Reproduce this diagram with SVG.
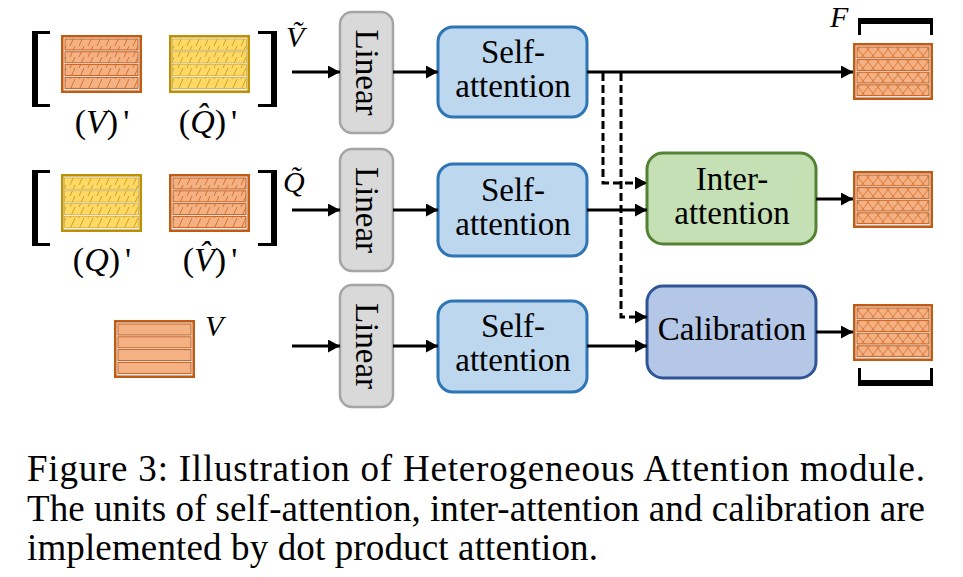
<svg xmlns="http://www.w3.org/2000/svg" xmlns:xlink="http://www.w3.org/1999/xlink" width="963" height="577" viewBox="0 0 963 577" font-family="'Liberation Serif', 'Times New Roman', Times, serif">
<style>
text{font-family:'Liberation Serif','Times New Roman',Times,serif;fill:#000}
.box{font-size:33px;text-anchor:middle}
.lab{font-size:34px;text-anchor:middle}
.it{font-style:italic}
.lin{fill:#D9D9D9;stroke:#A5A5A5;stroke-width:2.5}
.sa{fill:#BDD7EE;stroke:#2E75B6;stroke-width:3}
.ia{fill:#C5E0B4;stroke:#548235;stroke-width:3}
.ca{fill:#B4C7E7;stroke:#2F5597;stroke-width:3}
.ar{fill:none;stroke:#000;stroke-width:3;marker-end:url(#ah)}
.da{fill:none;stroke:#000;stroke-width:3;stroke-dasharray:8 4;marker-end:url(#ah)}
.br{fill:#000}
</style>
<defs>
<marker id="ah" markerUnits="userSpaceOnUse" markerWidth="13" markerHeight="13" refX="12" refY="6.5" orient="auto">
<path d="M0,0 L12,6.5 L0,13 z" fill="#000"/>
</marker>
<pattern id="pdo" patternUnits="userSpaceOnUse" width="9" height="11">
<rect width="9" height="11" fill="#F4B183"/>
<path d="M0,11 L5,0 M9,11 L14,0" stroke="#D9722F" stroke-width="1"/>
</pattern>
<pattern id="pdy" patternUnits="userSpaceOnUse" width="9" height="11">
<rect width="9" height="11" fill="#FFD966"/>
<path d="M0,11 L5,0 M9,11 L14,0" stroke="#D4A418" stroke-width="1"/>
</pattern>
<pattern id="pxo" patternUnits="userSpaceOnUse" width="10" height="12.6">
<rect width="10" height="12.6" fill="#F4B183"/>
<path d="M0,0 L10,12.6 M10,0 L0,12.6" stroke="#D9722F" stroke-width="0.9"/>
</pattern>
<g id="blkOD">
<rect width="81" height="58" fill="#C55A11"/>
<rect x="2.5" y="2.5" width="76" height="53" fill="#E6EBF2"/>
<g fill="url(#pdo)" stroke="#C55A11" stroke-width="0.9">
<rect x="4" y="4" width="73" height="11"/>
<rect x="4" y="16.8" width="73" height="11"/>
<rect x="4" y="29.6" width="73" height="11"/>
<rect x="4" y="42.4" width="73" height="11"/>
</g>
</g>
<g id="blkYD">
<rect width="81" height="58" fill="#BF9000"/>
<rect x="2.5" y="2.5" width="76" height="53" fill="#EEF0F2"/>
<g fill="url(#pdy)" stroke="#C9A020" stroke-width="0.6">
<rect x="3.5" y="4" width="74" height="11.2"/>
<rect x="3.5" y="16.8" width="74" height="11.2"/>
<rect x="3.5" y="29.6" width="74" height="11.2"/>
<rect x="3.5" y="42.4" width="74" height="11.2"/>
</g>
</g>
<g id="blkOX">
<rect width="80" height="57" fill="#C55A11"/>
<rect x="2.5" y="2.5" width="75" height="52" fill="#E6EBF2"/>
<g fill="url(#pxo)" stroke="#C55A11" stroke-width="0.9">
<rect x="4" y="4" width="72" height="10.8"/>
<rect x="4" y="16.6" width="72" height="10.8"/>
<rect x="4" y="29.2" width="72" height="10.8"/>
<rect x="4" y="41.8" width="72" height="10.8"/>
</g>
</g>
<g id="blkOP">
<rect width="81" height="58" fill="#C55A11"/>
<rect x="2.5" y="2.5" width="76" height="53" fill="#E6EBF2"/>
<g fill="#F4B183" stroke="#C55A11" stroke-width="0.9">
<rect x="4" y="4" width="73" height="11"/>
<rect x="4" y="16.8" width="73" height="11"/>
<rect x="4" y="29.6" width="73" height="11"/>
<rect x="4" y="42.4" width="73" height="11"/>
</g>
</g>
</defs>
<rect width="963" height="577" fill="#fff"/>

<g id="input-vtilde">
<path class="br" d="M32,31 H50 V34 H38 V104 H50 V107 H32 Z"/>
<use xlink:href="#blkOD" x="61" y="35"/>
<use xlink:href="#blkYD" x="169" y="35"/>
<path class="br" d="M258,31 H277 V107 H258 V104 H271 V34 H258 Z"/>
<text class="lab" x="102" y="133">(<tspan class="it">V</tspan>)<tspan dx="5">'</tspan></text>
<text class="lab" x="208" y="133">(<tspan class="it">Q̂</tspan>)<tspan dx="5">'</tspan></text>
<text class="it" x="286" y="47" font-size="30">Ṽ</text>
</g>

<g id="input-qtilde">
<path class="br" d="M32,170 H50 V173 H38 V243 H50 V246 H32 Z"/>
<use xlink:href="#blkYD" x="61" y="174"/>
<use xlink:href="#blkOD" x="169" y="174"/>
<path class="br" d="M258,170 H277 V246 H258 V243 H271 V173 H258 Z"/>
<text class="lab" x="102" y="271">(<tspan class="it">Q</tspan>)<tspan dx="5">'</tspan></text>
<text class="lab" x="210" y="271">(<tspan class="it">V̂</tspan>)<tspan dx="5">'</tspan></text>
<text class="it" x="283" y="192" font-size="30">Q̃</text>
</g>

<g id="input-v">
<use xlink:href="#blkOP" x="114" y="320"/>
<text class="it" x="205" y="336" font-size="30">V</text>
</g>

<g id="linear1">
<rect class="lin" x="340" y="12" width="53" height="121" rx="12"/>
<text class="box" transform="translate(366.5,72.5) rotate(90)" x="0" y="11">Linear</text>
</g>
<g id="linear2">
<rect class="lin" x="340" y="149" width="53" height="122" rx="12"/>
<text class="box" transform="translate(366.5,210) rotate(90)" x="0" y="11">Linear</text>
</g>
<g id="linear3">
<rect class="lin" x="340" y="285" width="53" height="122" rx="12"/>
<text class="box" transform="translate(366.5,346) rotate(90)" x="0" y="11">Linear</text>
</g>

<g id="selfatt1">
<rect class="sa" x="438" y="27" width="149" height="90" rx="15"/>
<text class="box" x="513" y="63">Self-</text>
<text class="box" x="513" y="97">attention</text>
</g>
<g id="selfatt2">
<rect class="sa" x="438" y="164" width="149" height="92" rx="15"/>
<text class="box" x="513" y="201">Self-</text>
<text class="box" x="513" y="235">attention</text>
</g>
<g id="selfatt3">
<rect class="sa" x="438" y="301" width="149" height="91" rx="15"/>
<text class="box" x="513" y="337">Self-</text>
<text class="box" x="513" y="371">attention</text>
</g>

<g id="interatt">
<rect class="ia" x="647" y="153" width="169" height="91" rx="16"/>
<text class="box" x="732" y="190">Inter-</text>
<text class="box" x="732" y="224">attention</text>
</g>

<g id="calibration">
<rect class="ca" x="647" y="286" width="169" height="92" rx="16"/>
<text class="box" x="732" y="340">Calibration</text>
</g>

<g id="output-f">
<text class="it" x="830" y="27" font-size="30">F</text>
<path class="br" d="M858,18 H933 V35 H930 V24 H861 V35 H858 Z"/>
<use xlink:href="#blkOX" x="853" y="43"/>
</g>
<g id="output2">
<use xlink:href="#blkOX" x="853" y="171"/>
</g>
<g id="output3">
<use xlink:href="#blkOX" x="853" y="304"/>
<path class="br" d="M858,368 H861 V380 H930 V368 H933 V386 H858 Z"/>
</g>

<g id="connectors">
<path class="ar" d="M292,72 H340"/>
<path class="ar" d="M393,72 H438"/>
<path class="ar" d="M587,72 H853"/>
<path class="ar" d="M292,210 H340"/>
<path class="ar" d="M393,210 H438"/>
<path class="ar" d="M587,210 H647"/>
<path class="ar" d="M292,346 H340"/>
<path class="ar" d="M393,346 H438"/>
<path class="ar" d="M587,346 H647"/>
<path class="ar" d="M816,199 H853"/>
<path class="ar" d="M816,332 H853"/>
<path class="da" d="M603,73 V183 H647"/>
<path class="da" d="M621,73 V317 H647"/>
</g>

<g id="caption">
<text x="27" y="481" font-size="37" textLength="898" lengthAdjust="spacing">Figure 3: Illustration of Heterogeneous Attention module.</text>
<text x="27" y="521" font-size="37" textLength="898" lengthAdjust="spacing">The units of self-attention, inter-attention and calibration are</text>
<text x="27" y="560" font-size="37" textLength="571" lengthAdjust="spacing">implemented by dot product attention.</text>
</g>
</svg>
